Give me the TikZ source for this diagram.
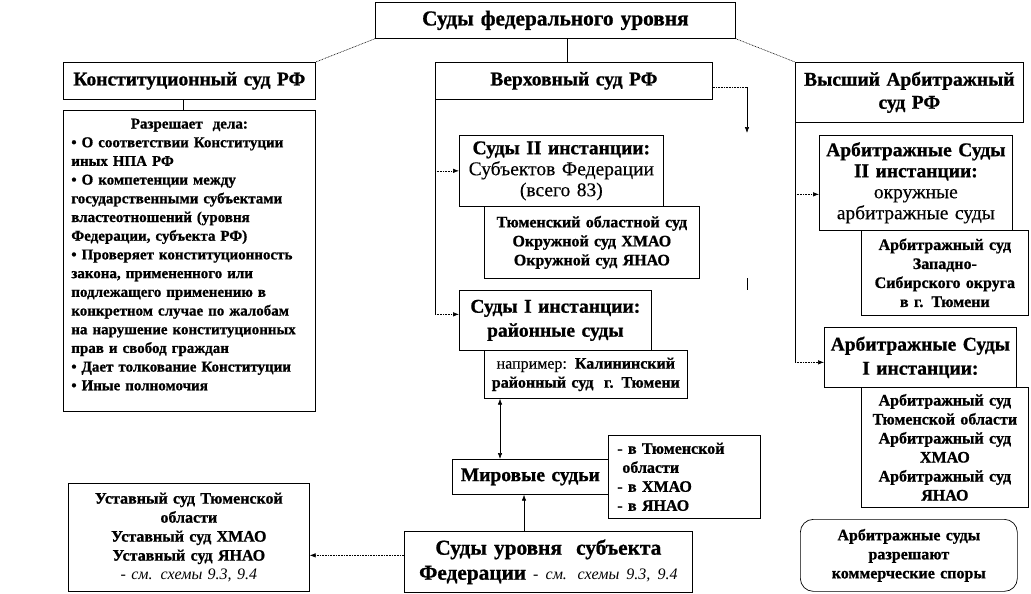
\documentclass[tikz,border=0pt]{standalone}
\usepackage{fontspec}
\setmainfont{Liberation Serif}[BoldFeatures={FakeBold=0.9},UprightFeatures={FakeBold=0.3}]
\usetikzlibrary{arrows.meta}
\newcommand\ftitle{\fontsize{21.3}{25}\selectfont\bfseries}
\newcommand\fhead{\fontsize{19.5}{22}\selectfont\bfseries}
\newcommand\fsmall{\fontsize{16}{19}\selectfont\bfseries}
\newcommand\fdesc{\fontsize{15}{18.7}\selectfont\bfseries}
\newcommand\fnote{\fontsize{16}{19}\selectfont\mdseries\itshape}
\begin{document}
\begin{tikzpicture}[x=1pt,y=-1pt,
  box/.style={draw=black, line width=0.7pt, inner sep=0pt, align=center, anchor=north west, fill=white},
  con/.style={draw=black, line width=0.6pt},
  dcon/.style={draw=black, line width=0.6pt, dash pattern=on 0.8pt off 0.8pt},
  tip/.style={-{Latex[length=6pt,width=4.5pt]}},
  dtip/.style={{Latex[length=6pt,width=4.5pt]}-{Latex[length=6pt,width=4.5pt]}}
]
\fill[white] (0,0) rectangle (1031,594);
\useasboundingbox (0,0) rectangle (1031,594);

% boxes
\node[box, minimum width=360pt, minimum height=36pt, text width=360pt, font=\ftitle] (title) at (375,2) {Суды федерального уровня};
\node[box, minimum width=252pt, minimum height=37pt, text width=252pt, font=\fhead] (konst) at (63,62) {Конституционный суд РФ};
\node[box, minimum width=252pt, minimum height=301pt, text width=236pt, inner xsep=8pt, align=left, font=\fdesc] (desc) at (63,110) {\makebox[236pt][c]{Разрешает\ \ дела:}\\
• О соответствии Конституции\\
иных НПА РФ\\
• О компетенции между\\
государственными субъектами\\
властеотношений (уровня\\
Федерации, субъекта РФ)\\
• Проверяет конституционность\\
закона, примененного или\\
подлежащего применению в\\
конкретном случае по жалобам\\
на нарушение конституционных\\
прав и свобод граждан\\
• Дает толкование Конституции\\
• Иные полномочия\\[-6pt]\mbox{}};
\node[box, minimum width=277pt, minimum height=37pt, text width=277pt, font=\fhead] (verkh) at (435,62) {Верховный суд РФ};
\node[box, minimum width=228pt, minimum height=60pt, text width=228pt, font=\fhead] (vyssh) at (795,62) {Высший Арбитражный\\[1pt] суд РФ};
\node[box, minimum width=204pt, minimum height=71pt, text width=204pt, font=\fhead] (sud2) at (459,135) {Суды II инстанции:\\[-1pt] {\mdseries Субъектов Федерации}\\[-1pt] {\mdseries (всего 83)}};
\node[box, minimum width=215pt, minimum height=72pt, text width=215pt, font=\fsmall] (tyum) at (484,206) {Тюменский областной суд\\ Окружной суд ХМАО\\ Окружной суд ЯНАО};
\node[box, minimum width=192pt, minimum height=60pt, text width=192pt, font=\fhead] (sud1) at (459,290) {Суды I инстанции:\\[2pt] районные суды};
\node[box, minimum width=203pt, minimum height=48pt, text width=203pt, font=\fsmall] (nap) at (484,350) {{\mdseries например:} Калининский\\ районный суд \ г. Тюмени};
\node[box, minimum width=156pt, minimum height=35pt, text width=156pt, font=\fhead] (mir) at (452,459) {Мировые судьи};
\node[box, minimum width=144pt, minimum height=83pt, text width=134pt, inner xsep=9pt, align=left, font=\fsmall] (vtyum) at (608,435) {- в Тюменской\\ \hspace*{5pt}области\\ - в ХМАО\\ - в ЯНАО};
\node[box, minimum width=193pt, minimum height=95pt, text width=193pt, font=\fhead] (arb2) at (819,135) {Арбитражные Суды\\[-1pt] II инстанции:\\[-1pt] {\mdseries окружные}\\[-1pt] {\mdseries арбитражные суды}};
\node[box, minimum width=167pt, minimum height=85pt, text width=167pt, font=\fsmall] (zaps) at (861,230) {Арбитражный суд\\ Западно-\\ Сибирского округа\\ в г. Тюмени};
\node[box, minimum width=192pt, minimum height=60pt, text width=192pt, font=\fhead] (arb1) at (824,327) {Арбитражные Суды\\[2pt] I инстанции:};
\node[box, minimum width=167pt, minimum height=120pt, text width=167pt, font=\fsmall] (arbt) at (861,387) {Арбитражный суд\\ Тюменской области\\ Арбитражный суд\\ ХМАО\\ Арбитражный суд\\ ЯНАО};
\node[box, rounded corners=13pt, minimum width=217pt, minimum height=72pt, text width=217pt, font=\fsmall] (round) at (800,519) {Арбитражные суды\\ разрешают\\ коммерческие споры};
\node[box, minimum width=241pt, minimum height=108pt, text width=241pt, font=\fsmall] (ustav) at (68,483) {Уставный суд Тюменской\\ области\\ Уставный суд ХМАО\\ Уставный суд ЯНАО\\ {\fnote - см. схемы 9.3, 9.4}};
\node[box, minimum width=288pt, minimum height=61pt, text width=288pt, font=\ftitle] (subj) at (404,531) {Суды уровня \ субъекта\\ Федерации {\fnote - см. схемы 9.3, 9.4}};

% helper coordinates
\coordinate (vt) at ([xshift=-6.5pt]verkh.north);
\coordinate (kd) at ([xshift=-6pt]konst.south);
\coordinate (s1a) at ([yshift=6pt]sud1.west);
\coordinate (vr) at ([yshift=-6.5pt]verkh.east);
\coordinate (vd) at (747,133);
\coordinate (t1) at (747,278);
\coordinate (t2) at (747,290);
\coordinate (a2) at ([yshift=-11.5pt]arb2.west);
\coordinate (a1) at ([yshift=-5pt]arb1.west);
\coordinate (na) at ([xshift=16pt]nap.south west);
\coordinate (sa) at ([xshift=120pt]subj.north west);
\coordinate (su) at ([yshift=6.5pt]subj.west);

% connectors
\draw[dcon] (title.south west) -- (konst.north east);
\draw[dcon] (title.south east) -- (vyssh.north west);
\draw[con] (vt |- title.south) -- (vt);
\draw[con] (kd) -- (kd |- desc.north);
\draw[con] (verkh.south west) -- (verkh.south west |- s1a);
\draw[dcon,tip] (verkh.south west |- sud2.west) -- (sud2.west);
\draw[dcon,tip] (verkh.south west |- s1a) -- (s1a);
\draw[dcon] (vr) -- (vr -| vd);
\draw[con,tip] (vr -| vd) -- (vd);
\draw[con] (t1) -- (t2);
\draw[con] (vyssh.south west) -- (vyssh.south west |- a1);
\draw[dcon,tip] (vyssh.south west |- a2) -- (a2);
\draw[dcon,tip] (vyssh.south west |- a1) -- (a1);
\draw[con,dtip] (na) -- (na |- mir.north);
\draw[con,tip] (sa) -- (sa |- mir.south);
\draw[dcon,tip] (su) -- (su -| ustav.east);
\end{tikzpicture}
\end{document}
